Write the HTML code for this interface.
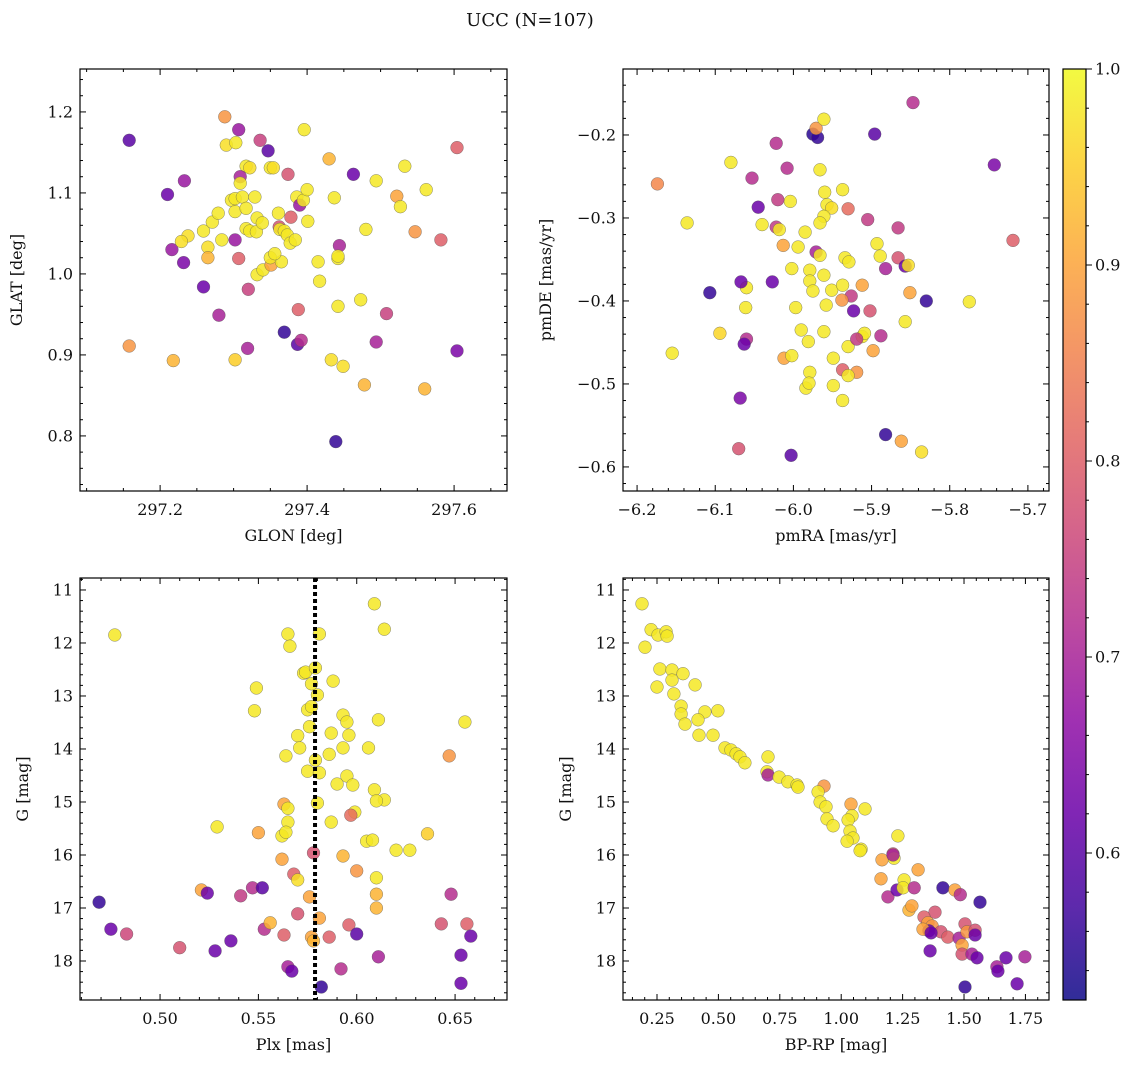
<!DOCTYPE html>
<html><head><meta charset="utf-8">
<style>
html,body{margin:0;padding:0;background:#fff;}
svg text{font-family:"DejaVu Serif","Liberation Serif",serif;fill:#111;}
</style></head>
<body>
<svg id="chart" width="1136" height="1068" viewBox="0 0 1136 1068" xmlns="http://www.w3.org/2000/svg">
<defs>
<linearGradient id="cbgrad" x1="0" y1="1" x2="0" y2="0">
<stop offset="0" stop-color="#0d0887"/><stop offset="0.1" stop-color="#41049d"/><stop offset="0.2" stop-color="#6a00a8"/><stop offset="0.3" stop-color="#8f0da4"/><stop offset="0.4" stop-color="#b12a90"/><stop offset="0.5" stop-color="#cc4778"/><stop offset="0.6" stop-color="#e16462"/><stop offset="0.7" stop-color="#f2844b"/><stop offset="0.8" stop-color="#fca636"/><stop offset="0.9" stop-color="#fcce25"/><stop offset="1" stop-color="#f0f921"/>
</linearGradient>
</defs>
<text x="530" y="26" text-anchor="middle" font-size="18">UCC (N=107)</text>
</svg>
<script>
// ---- Panel 1: GLON vs GLAT ----
const glon = [297.158,297.288,297.307,297.336,297.347,297.396,297.233,297.210,297.290,297.303,297.317,297.322,297.309,297.309,297.350,297.354,297.374,297.430,297.463,297.533,297.494,297.522,297.527,297.562,297.604,297.216,297.238,297.265,297.265,297.259,297.271,297.279,297.297,297.302,297.302,297.312,297.317,297.317,297.322,297.331,297.332,297.339,297.329,297.302,297.307,297.320,297.332,297.340,297.351,297.365,297.362,297.361,297.363,297.369,297.373,297.377,297.378,297.384,297.386,297.390,297.395,297.400,297.401,297.415,297.417,297.442,297.437,297.444,297.442,297.480,297.547,297.582,297.259,297.388,297.280,297.232,297.302,297.319,297.369,297.387,297.392,297.158,297.218,297.433,297.449,297.442,297.473,297.508,297.478,297.560,297.604,297.439,297.494,297.284,297.229,297.350,297.356];
const glat = [1.165,1.194,1.178,1.165,1.152,1.178,1.115,1.098,1.159,1.162,1.133,1.131,1.120,1.112,1.131,1.131,1.123,1.142,1.123,1.133,1.115,1.096,1.083,1.104,1.156,1.030,1.047,1.033,1.020,1.053,1.064,1.075,1.091,1.077,1.093,1.095,1.081,1.056,1.053,1.052,1.069,1.063,1.095,1.042,1.019,0.981,0.999,1.005,1.011,1.015,1.058,1.075,1.055,1.053,1.048,1.038,1.070,1.042,1.095,1.085,1.091,1.104,1.065,1.015,0.991,1.019,1.094,1.035,1.022,1.055,1.052,1.042,0.984,0.956,0.949,1.014,0.894,0.908,0.928,0.913,0.918,0.911,0.893,0.894,0.886,0.960,0.968,0.951,0.863,0.858,0.905,0.793,0.916,1.042,1.040,1.020,1.025];
const prob1 = [0.60,0.88,0.68,0.75,0.60,0.98,0.68,0.62,0.97,0.98,0.98,0.97,0.70,0.98,0.98,0.97,0.78,0.92,0.62,0.98,0.98,0.90,0.98,0.98,0.80,0.68,0.97,0.97,0.92,0.98,0.98,0.98,0.98,0.98,0.98,0.98,0.98,0.98,0.98,0.98,0.98,0.98,0.98,0.68,0.80,0.75,0.98,0.98,0.90,0.98,0.78,0.98,0.98,0.98,0.98,0.98,0.80,0.98,0.98,0.68,0.98,0.98,0.98,0.98,0.98,0.98,0.98,0.70,0.98,0.98,0.88,0.80,0.62,0.80,0.70,0.64,0.95,0.70,0.56,0.60,0.72,0.88,0.92,0.97,0.97,0.98,0.98,0.75,0.92,0.92,0.64,0.56,0.70,0.98,0.97,0.98,0.98];

// ---- Panel 2: pmRA vs pmDE ----
const pmra = [-5.847,-5.743,-5.896,-5.975,-5.969,-5.971,-5.961,-6.022,-6.080,-6.008,-6.053,-6.174,-6.136,-5.966,-5.960,-5.937,-5.957,-5.951,-5.961,-5.930,-5.966,-6.004,-6.020,-6.045,-6.040,-6.022,-6.018,-5.905,-5.866,-5.719,-6.013,-5.994,-5.985,-5.893,-5.889,-5.866,-5.857,-5.853,-5.882,-5.934,-5.929,-5.971,-5.966,-5.961,-5.979,-6.002,-5.979,-5.975,-5.951,-5.937,-5.926,-5.912,-5.902,-5.923,-5.938,-5.958,-5.997,-5.961,-5.990,-6.027,-6.061,-6.060,-6.067,-5.851,-5.830,-5.775,-5.857,-6.107,-6.094,-6.060,-6.063,-6.012,-6.002,-5.981,-5.979,-5.949,-5.930,-5.912,-5.909,-5.898,-5.919,-5.937,-5.919,-5.930,-5.949,-5.937,-5.984,-5.980,-6.155,-6.068,-6.070,-6.003,-5.882,-5.862,-5.836,-5.888];
const pmde = [-0.161,-0.236,-0.199,-0.199,-0.203,-0.192,-0.181,-0.210,-0.233,-0.240,-0.252,-0.259,-0.306,-0.242,-0.269,-0.266,-0.284,-0.288,-0.298,-0.289,-0.306,-0.280,-0.278,-0.287,-0.308,-0.311,-0.314,-0.302,-0.312,-0.327,-0.333,-0.335,-0.317,-0.331,-0.346,-0.348,-0.358,-0.357,-0.361,-0.348,-0.353,-0.341,-0.345,-0.369,-0.363,-0.361,-0.376,-0.388,-0.387,-0.381,-0.394,-0.381,-0.412,-0.412,-0.399,-0.405,-0.408,-0.437,-0.435,-0.377,-0.408,-0.384,-0.377,-0.390,-0.400,-0.401,-0.425,-0.390,-0.439,-0.446,-0.452,-0.469,-0.466,-0.449,-0.486,-0.469,-0.455,-0.443,-0.439,-0.460,-0.446,-0.483,-0.486,-0.490,-0.502,-0.520,-0.505,-0.499,-0.463,-0.517,-0.578,-0.586,-0.561,-0.569,-0.582,-0.442];
const prob2 = [0.72,0.64,0.60,0.55,0.56,0.88,0.98,0.72,0.98,0.72,0.72,0.86,0.98,0.98,0.98,0.98,0.98,0.97,0.98,0.82,0.98,0.98,0.74,0.62,0.98,0.74,0.98,0.74,0.74,0.80,0.90,0.98,0.98,0.98,0.98,0.78,0.62,0.97,0.70,0.98,0.98,0.70,0.98,0.98,0.98,0.98,0.98,0.98,0.98,0.98,0.74,0.90,0.78,0.62,0.88,0.98,0.98,0.98,0.98,0.62,0.98,0.98,0.62,0.90,0.56,0.98,0.98,0.56,0.96,0.72,0.62,0.90,0.98,0.98,0.98,0.98,0.98,0.98,0.98,0.90,0.74,0.80,0.88,0.98,0.98,0.98,0.98,0.98,0.98,0.64,0.78,0.60,0.56,0.90,0.97,0.72];

// ---- Panel 3: Plx vs G ----
const plx = [0.477,0.565,0.566,0.581,0.609,0.614,0.573,0.574,0.579,0.577,0.580,0.588,0.549,0.548,0.575,0.577,0.576,0.593,0.595,0.596,0.611,0.655,0.570,0.571,0.587,0.593,0.606,0.564,0.575,0.579,0.581,0.586,0.595,0.598,0.609,0.590,0.647,0.580,0.614,0.610,0.599,0.597,0.563,0.565,0.565,0.587,0.562,0.564,0.529,0.550,0.605,0.608,0.636,0.620,0.627,0.562,0.593,0.600,0.568,0.570,0.610,0.610,0.578,0.521,0.524,0.547,0.552,0.541,0.576,0.610,0.469,0.475,0.483,0.510,0.528,0.536,0.553,0.556,0.563,0.570,0.577,0.581,0.578,0.586,0.596,0.600,0.611,0.565,0.567,0.592,0.582,0.643,0.656,0.658,0.648,0.653,0.653];
const gmag3 = [11.85,11.83,12.06,11.83,11.26,11.74,12.57,12.55,12.47,12.77,12.98,12.72,12.85,13.28,13.26,13.20,13.58,13.36,13.49,13.74,13.45,13.49,13.75,13.98,13.70,13.98,13.98,14.13,14.42,14.21,14.45,14.10,14.51,14.68,14.77,14.66,14.13,15.02,14.96,14.98,15.19,15.25,15.04,15.12,15.38,15.38,15.64,15.57,15.47,15.58,15.74,15.72,15.60,15.91,15.91,16.08,16.02,16.30,16.36,16.47,16.43,16.74,15.96,16.66,16.72,16.62,16.62,16.77,16.79,17.00,16.89,17.40,17.49,17.75,17.81,17.62,17.40,17.28,17.51,17.11,17.55,17.19,17.62,17.55,17.32,17.49,17.92,18.11,18.19,18.15,18.49,17.30,17.30,17.53,16.74,17.89,18.42];
const prob3 = [0.98,0.98,0.98,0.98,0.98,0.98,0.98,0.98,0.98,0.98,0.98,0.98,0.98,0.98,0.98,0.98,0.98,0.98,0.98,0.98,0.98,0.98,0.98,0.98,0.98,0.98,0.98,0.98,0.98,0.98,0.98,0.98,0.98,0.98,0.98,0.98,0.88,0.98,0.98,0.98,0.98,0.82,0.90,0.98,0.98,0.98,0.98,0.98,0.98,0.90,0.98,0.98,0.95,0.98,0.98,0.90,0.92,0.88,0.80,0.97,0.98,0.92,0.78,0.90,0.62,0.72,0.60,0.74,0.90,0.92,0.56,0.62,0.76,0.78,0.62,0.62,0.72,0.92,0.80,0.78,0.90,0.90,0.92,0.80,0.80,0.60,0.70,0.70,0.62,0.72,0.56,0.78,0.80,0.62,0.72,0.62,0.62];

// ---- Panel 4: BP-RP vs G ----
const bprp = [0.189,0.201,0.226,0.254,0.287,0.291,0.262,0.311,0.356,0.250,0.311,0.319,0.405,0.348,0.348,0.364,0.445,0.498,0.417,0.421,0.478,0.527,0.551,0.572,0.588,0.608,0.702,0.698,0.702,0.747,0.783,0.820,0.824,0.930,0.906,0.914,0.938,1.040,1.044,1.097,0.942,0.967,1.028,1.036,1.048,1.024,1.081,1.077,1.231,1.211,1.215,1.166,1.211,1.162,1.256,1.313,1.190,1.227,1.252,1.297,1.414,1.463,1.485,1.565,1.276,1.288,1.382,1.337,1.353,1.370,1.357,1.406,1.434,1.333,1.366,1.480,1.504,1.512,1.545,1.545,1.492,1.492,1.532,1.362,1.553,1.671,1.748,1.634,1.638,1.716,1.504];
const gmag4 = [11.26,12.08,11.75,11.85,11.79,11.87,12.49,12.51,12.58,12.83,12.70,12.96,12.79,13.19,13.34,13.53,13.30,13.28,13.45,13.74,13.74,13.98,14.02,14.09,14.15,14.26,14.15,14.43,14.49,14.53,14.62,14.68,14.72,14.70,14.81,15.00,15.09,15.04,15.26,15.13,15.32,15.45,15.34,15.55,15.68,15.74,15.89,15.92,15.64,15.98,16.06,16.09,16.00,16.45,16.47,16.28,16.79,16.66,16.62,16.62,16.62,16.66,16.75,16.89,17.04,16.96,17.08,17.17,17.28,17.34,17.43,17.45,17.55,17.40,17.47,17.57,17.30,17.45,17.42,17.51,17.70,17.87,17.87,17.81,17.94,17.94,17.92,18.11,18.19,18.43,18.49];
const prob4 = [0.98,0.98,0.98,0.98,0.98,0.98,0.98,0.98,0.98,0.98,0.98,0.98,0.98,0.98,0.98,0.98,0.98,0.98,0.98,0.98,0.98,0.98,0.98,0.98,0.98,0.98,0.98,0.98,0.70,0.98,0.98,0.98,0.98,0.88,0.98,0.98,0.98,0.90,0.98,0.98,0.98,0.98,0.98,0.98,0.98,0.98,0.98,0.98,0.98,0.78,0.98,0.90,0.70,0.90,0.98,0.90,0.72,0.62,0.98,0.72,0.56,0.90,0.72,0.56,0.92,0.90,0.78,0.80,0.90,0.88,0.62,0.78,0.80,0.90,0.62,0.70,0.78,0.88,0.78,0.62,0.90,0.78,0.70,0.62,0.62,0.62,0.70,0.70,0.62,0.62,0.56];

const cbTicks = [0.6,0.7,0.8,0.9,1.0];
const plxLine = 0.5788;
const vmin = 0.525, vmax = 1.0;

const NS = 'http://www.w3.org/2000/svg';
const svg = document.getElementById('chart');
function mk(tag, attrs, parent){
  const e = document.createElementNS(NS, tag);
  for (const k in attrs) e.setAttribute(k, attrs[k]);
  (parent||svg).appendChild(e);
  return e;
}
const stops = [[0,[13,8,135]],[0.1,[65,4,157]],[0.2,[106,0,168]],[0.3,[143,13,164]],[0.4,[177,42,144]],[0.5,[204,71,120]],[0.6,[225,100,98]],[0.7,[242,132,75]],[0.8,[252,166,54]],[0.9,[252,206,37]],[1,[240,249,33]]];
function plasma(v){
  let t = Math.max(0, Math.min(1, (v-vmin)/(vmax-vmin)));
  for (let i=0;i<stops.length-1;i++){
    const [t0,c0]=stops[i],[t1,c1]=stops[i+1];
    if (t<=t1){ const f=(t-t0)/(t1-t0); return 'rgb('+c0.map((c,j)=>Math.round(c+(c1[j]-c)*f)).join(',')+')'; }
  }
  return 'rgb(240,249,33)';
}
function fmt(v, d){ const s = Math.abs(v).toFixed(d); return (v < -1e-9 ? '\u2212' : '') + s; }

function panel(cfg){
  const {name, L, T, R, B, xmin, xmax, ymin, ymax, yinv, xs, ys, ps, xMaj, xMin, yMaj, yMin, xd, yd, xlabel, ylabel, ylabX} = cfg;
  const g = mk('g', {});
  
  
  const X = v => L + (v - xmin) / (xmax - xmin) * (R - L);
  const Y = v => yinv ? T + (v - ymin) / (ymax - ymin) * (B - T) : B - (v - ymin) / (ymax - ymin) * (B - T);
  const clipId = name + '-clip';
  const cp = mk('clipPath', {id: clipId}, g);
  mk('rect', {x:L, y:T, width:R-L, height:B-T}, cp);
  const pts = mk('g', {'clip-path':'url(#'+clipId+')'}, g);
  
  
  for (let i=0;i<xs.length;i++){
    const c = mk('circle', {cx:X(xs[i]).toFixed(1), cy:Y(ys[i]).toFixed(1), r:6.4, fill:plasma(ps[i]), 'fill-opacity':0.85, stroke:'#555', 'stroke-width':0.5, 'stroke-opacity':0.7}, pts);
    
    
  }
  if (cfg.vline !== undefined){
    const vl = mk('line', {x1:X(cfg.vline), x2:X(cfg.vline), y1:T, y2:B, stroke:'#000', 'stroke-width':4, 'stroke-dasharray':'4 3'}, pts);
    
    
  }
  const frame = mk('rect', {x:L, y:T, width:R-L, height:B-T, fill:'none', stroke:'#000', 'stroke-width':1.2}, g);
  
  
  const tk = mk('g', {stroke:'#000', 'stroke-width':1}, g);
  const lo = Math.min(xmin,xmax), hi = Math.max(xmin,xmax);
  for (let k=Math.ceil(lo/xMin-1e-6); k*xMin<=hi+1e-9; k++){
    const v = k*xMin, px = X(v);
    const major = Math.abs(v/xMaj - Math.round(v/xMaj)) < 1e-6;
    const len = major ? 6 : 3;
    mk('line', {x1:px, x2:px, y1:B, y2:B-len}, tk);
    mk('line', {x1:px, x2:px, y1:T, y2:T+len}, tk);
    if (major){
      const t = mk('text', {x:px, y:B+24, 'text-anchor':'middle', 'font-size':16}, g);
      t.textContent = fmt(v, xd);
      
      
    }
  }
  const ylo = Math.min(ymin,ymax), yhi = Math.max(ymin,ymax);
  for (let k=Math.ceil(ylo/yMin-1e-6); k*yMin<=yhi+1e-9; k++){
    const v = k*yMin, py = Y(v);
    const major = Math.abs(v/yMaj - Math.round(v/yMaj)) < 1e-6;
    const len = major ? 6 : 3;
    mk('line', {x1:L, x2:L+len, y1:py, y2:py}, tk);
    mk('line', {x1:R, x2:R-len, y1:py, y2:py}, tk);
    if (major){
      const t = mk('text', {x:L-7, y:py+5.5, 'text-anchor':'end', 'font-size':16}, g);
      t.textContent = fmt(v, yd);
      
      
    }
  }
  const xl = mk('text', {x:(L+R)/2, y:B+50, 'text-anchor':'middle', 'font-size':16}, g);
  xl.textContent = xlabel;
  
  
  const yl = mk('text', {x:ylabX, y:(T+B)/2, 'text-anchor':'middle', 'font-size':16, transform:'rotate(-90 '+ylabX+' '+((T+B)/2)+')'}, g);
  yl.textContent = ylabel;
  
  
}

panel({name:'glon-glat-panel', L:80, T:69, R:507, B:491, xmin:297.091, xmax:297.672, ymin:0.732, ymax:1.253, yinv:false,
  xs:glon, ys:glat, ps:prob1, xMaj:0.2, xMin:0.05, yMaj:0.1, yMin:0.02, xd:1, yd:1, xlabel:'GLON [deg]', ylabel:'GLAT [deg]', ylabX:22});
panel({name:'pm-panel', L:623, T:69, R:1049, B:491, xmin:-6.218, xmax:-5.673, ymin:-0.629, ymax:-0.1205, yinv:false,
  xs:pmra, ys:pmde, ps:prob2, xMaj:0.1, xMin:0.02, yMaj:0.1, yMin:0.02, xd:1, yd:1, xlabel:'pmRA [mas/yr]', ylabel:'pmDE [mas/yr]', ylabX:551});
panel({name:'plx-g-panel', L:80, T:578, R:507, B:1000, xmin:0.4593, xmax:0.6764, ymin:10.774, ymax:18.736, yinv:true,
  xs:plx, ys:gmag3, ps:prob3, xMaj:0.05, xMin:0.01, yMaj:1, yMin:0.2, xd:2, yd:0, xlabel:'Plx [mas]', ylabel:'G [mag]', ylabX:28, vline:plxLine});
panel({name:'cmd-panel', L:623, T:578, R:1049, B:1000, xmin:0.1116, xmax:1.846, ymin:10.774, ymax:18.736, yinv:true,
  xs:bprp, ys:gmag4, ps:prob4, xMaj:0.25, xMin:0.05, yMaj:1, yMin:0.2, xd:2, yd:0, xlabel:'BP-RP [mag]', ylabel:'G [mag]', ylabX:571});

// colorbar
const cb = mk('g', {});


const cbT = 69, cbB = 1000, cbL = 1063, cbR = 1086;
const cbY = v => cbB - (v - vmin)/(vmax - vmin)*(cbB - cbT);
mk('rect', {x:cbL, y:cbT, width:cbR-cbL, height:cbB-cbT, fill:'url(#cbgrad)', 'fill-opacity':0.85, stroke:'#000', 'stroke-width':1.2}, cb);
for (let k=27; k<=50; k++){
  const v = k*0.02; if (v < vmin || v > vmax+1e-9) continue;
  mk('line', {x1:cbR, x2:cbR+3, y1:cbY(v), y2:cbY(v), stroke:'#000'}, cb);
}
cbTicks.forEach(v => {
  mk('line', {x1:cbR, x2:cbR+6, y1:cbY(v), y2:cbY(v), stroke:'#000'}, cb);
  const t = mk('text', {x:cbR+9, y:cbY(v)+5.5, 'font-size':16}, cb);
  t.textContent = v.toFixed(1);
  
  
});
</script>
</body></html>
